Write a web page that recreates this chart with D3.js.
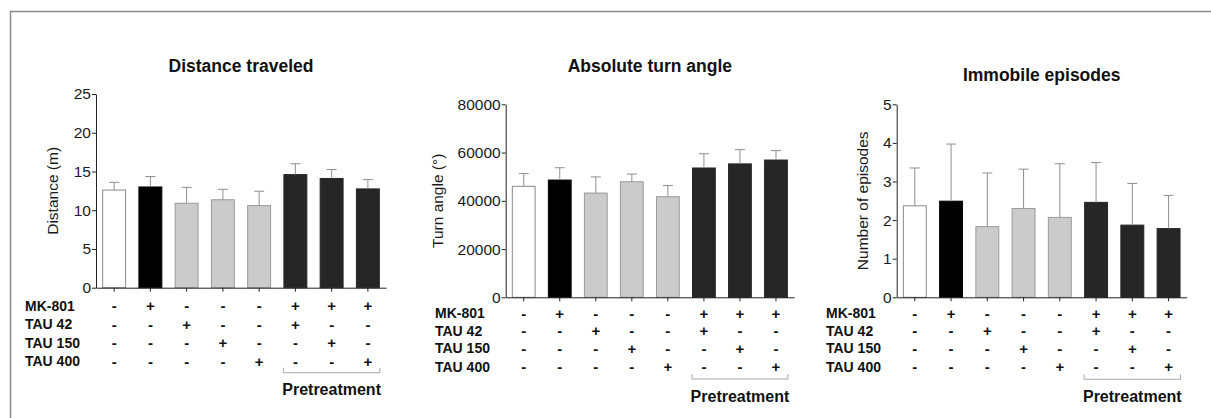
<!DOCTYPE html>
<html>
<head>
<meta charset="utf-8">
<script src="https://cdn.jsdelivr.net/npm/d3@7"></script>
<style>
    body { margin: 0; background: #fff; }
    svg { display: block; font-family: "Liberation Sans", Arial, sans-serif; }
    .axis path, .axis line { stroke: #222; }
    .axis text { font-size: 15.5px; fill: #1a1a1a; }
</style>
</head>
<body>
<svg id="chart" width="1211" height="418"></svg>
<script>
// groups in order, and which treatments each one got
const rowLabels = ["MK-801", "TAU 42", "TAU 150", "TAU 400"];
const signs = [
    ["-", "+", "-", "-", "-", "+", "+", "+"],
    ["-", "-", "+", "-", "-", "+", "-", "-"],
    ["-", "-", "-", "+", "-", "-", "+", "-"],
    ["-", "-", "-", "-", "+", "-", "-", "+"]
];
const groups = [0, 1, 2, 3, 4, 5, 6, 7];
const pretreatGroups = [5, 7];

// values (mean and SEM)
const distanceMean = [12.6, 13.0, 10.9, 11.35, 10.6, 14.6, 14.1, 12.75];
const distanceSem = [1.0, 1.35, 2.05, 1.35, 1.85, 1.4, 1.15, 1.2];
const distanceTicks = [0, 5, 10, 15, 20, 25];

const turnMean = [46000, 48600, 43200, 47900, 41700, 53600, 55300, 56900];
const turnSem = [5300, 5100, 6700, 3200, 4600, 5900, 5900, 3900];
const turnTicks = [0, 20000, 40000, 60000, 80000];

const immobileMean = [2.37, 2.49, 1.83, 2.30, 2.07, 2.46, 1.87, 1.78];
const immobileSem = [0.98, 1.48, 1.39, 1.02, 1.39, 1.03, 1.08, 0.86];
const immobileTicks = [0, 1, 2, 3, 4, 5];

const fills = ["#ffffff", "#000000", "#cbcbcb", "#cbcbcb", "#cbcbcb", "#262626", "#262626", "#262626"];
const strokes = ["#8a8a8a", "#000000", "#9a9a9a", "#9a9a9a", "#9a9a9a", "#262626", "#262626", "#262626"];

const svg = d3.select("#chart");

// frame (top and left edges only)
svg.append("path")
    .attr("d", "M10.5,418 L10.5,11.5 L1211,11.5")
    .attr("fill", "none")
    .attr("stroke", "#8c8c8c")
    .attr("stroke-width", 1.5);

const panels = [
    { title: "Distance traveled", ylabel: "Distance (m)", mean: distanceMean, sem: distanceSem, ticks: distanceTicks,
      left: 96, right: 386, top: 94, bottom: 287.7, titleY: 72, ylabelX: 58,
      labelX: 25, rowY: [306, 324.5, 343, 361.5], bracketY: 372.7, preY: 395 },
    { title: "Absolute turn angle", ylabel: "Turn angle (°)", mean: turnMean, sem: turnSem, ticks: turnTicks,
      left: 505.7, right: 794, top: 104.3, bottom: 297.3, titleY: 72, ylabelX: 443,
      labelX: 435, rowY: [313.5, 331, 348.5, 367], bracketY: 379, preY: 401.5 },
    { title: "Immobile episodes", ylabel: "Number of episodes", mean: immobileMean, sem: immobileSem, ticks: immobileTicks,
      left: 896.7, right: 1186.7, top: 104.3, bottom: 297.3, titleY: 80.5, ylabelX: 868,
      labelX: 826, rowY: [313.5, 331, 348.5, 367], bracketY: 379.3, preY: 401.5 }
];

panels.forEach(drawPanel);

function drawPanel(p) {
    const g = svg.append("g");

    const x = d3.scaleBand()
        .domain(groups)
        .range([p.left, p.right])
        .paddingInner(0.34)
        .paddingOuter(0.17);

    const y = d3.scaleLinear()
        .domain([0, d3.max(p.ticks)])
        .range([p.bottom, p.top]);

    // bars
    g.selectAll("rect.bar")
        .data(groups)
        .join("rect")
        .attr("class", "bar")
        .attr("x", i => x(i) + 0.5)
        .attr("y", i => y(p.mean[i]))
        .attr("width", x.bandwidth() - 1)
        .attr("height", i => y(0) - y(p.mean[i]))
        .attr("fill", i => fills[i])
        .attr("stroke", i => strokes[i])
        .attr("stroke-width", 1);

    // error bars (upper only)
    const cx = i => x(i) + x.bandwidth() / 2;
    g.selectAll("line.err")
        .data(groups)
        .join("line")
        .attr("class", "err")
        .attr("x1", cx).attr("x2", cx)
        .attr("y1", i => y(p.mean[i]))
        .attr("y2", i => y(p.mean[i] + p.sem[i]))
        .attr("stroke", "#8f8f8f")
        .attr("stroke-width", 1);
    g.selectAll("line.cap")
        .data(groups)
        .join("line")
        .attr("class", "cap")
        .attr("x1", i => cx(i) - 5).attr("x2", i => cx(i) + 5)
        .attr("y1", i => y(p.mean[i] + p.sem[i]))
        .attr("y2", i => y(p.mean[i] + p.sem[i]))
        .attr("stroke", "#8f8f8f")
        .attr("stroke-width", 1);

    // axes
    g.append("g")
        .attr("class", "axis")
        .attr("transform", `translate(${p.left},0)`)
        .call(d3.axisLeft(y).tickValues(p.ticks).tickSize(4).tickPadding(1).tickSizeOuter(0).tickFormat(d3.format("d")));

    g.append("g")
        .attr("class", "axis")
        .attr("transform", `translate(0,${p.bottom})`)
        .call(d3.axisBottom(x).tickSize(4).tickSizeOuter(0).tickFormat(""));

    // title
    g.append("text")
        .attr("x", (p.left + p.right) / 2 + 0)
        .attr("y", p.titleY)
        .attr("text-anchor", "middle")
        .style("font-size", "17.5px")
        .style("font-weight", "bold")
        .style("fill", "#111")
        .text(p.title);

    // y label
    g.append("text")
        .attr("transform", `translate(${p.ylabelX},${(p.top + p.bottom) / 2}) rotate(-90)`)
        .attr("text-anchor", "middle")
        .style("font-size", "15.5px")
        .style("fill", "#1a1a1a")
        .text(p.ylabel);

    // treatment table
    rowLabels.forEach((label, r) => {
        g.append("text")
            .attr("x", p.labelX)
            .attr("y", p.rowY[r])
            .attr("dy", "0.35em")
            .style("font-size", "14px")
            .style("font-weight", "bold")
            .style("fill", "#111")
            .text(label);
        g.selectAll(null)
            .data(groups)
            .join("text")
            .attr("x", cx)
            .attr("y", p.rowY[r])
            .attr("dy", "0.35em")
            .attr("text-anchor", "middle")
            .style("font-size", "15px")
            .style("font-weight", "bold")
            .style("fill", "#111")
            .text(i => signs[r][i]);
    });

    // pretreatment bracket
    const bx0 = x(pretreatGroups[0]);
    const bx1 = x(pretreatGroups[1]) + x.bandwidth();
    g.append("path")
        .attr("d", `M${bx0},${p.bracketY - 5} V${p.bracketY} H${bx1} V${p.bracketY - 5}`)
        .attr("fill", "none")
        .attr("stroke", "#a8a8a8")
        .attr("stroke-width", 1);
    g.append("text")
        .attr("x", (bx0 + bx1) / 2)
        .attr("y", p.preY)
        .attr("text-anchor", "middle")
        .style("font-size", "16px")
        .style("font-weight", "bold")
        .style("fill", "#111")
        .text("Pretreatment");
}
</script>
</body>
</html>
